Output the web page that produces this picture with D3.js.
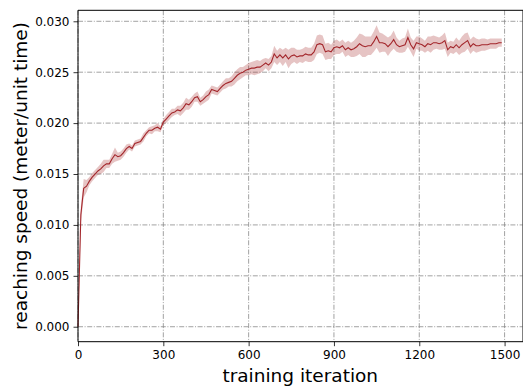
<!DOCTYPE html>
<html>
<head>
<meta charset="utf-8">
<script src="https://cdn.jsdelivr.net/npm/d3@7"></script>
<style>
  body { margin: 0; background: #fff; }
  text { font-family: "DejaVu Sans", sans-serif; }
</style>
</head>
<body>
<div id="my_dataviz"></div>
<script>
// training iterations (one sample every 10 iterations)
const iterations = d3.range(0, 1500, 10);

// mean reaching speed per sample
const speedMean = [
  0, 0.0110, 0.0136, 0.0138, 0.0143, 0.0147, 0.0150, 0.0153, 0.0155, 0.0158,
  0.0160, 0.0160, 0.0165, 0.0169, 0.0167, 0.0168, 0.0171, 0.0175, 0.0177, 0.0175,
  0.0180, 0.0181, 0.0182, 0.0186, 0.0190, 0.0193, 0.0193, 0.0195, 0.0196, 0.0194,
  0.0201, 0.0204, 0.0207, 0.0210, 0.0211, 0.0213, 0.0212, 0.0215, 0.0219, 0.0218,
  0.0221, 0.0225, 0.0226, 0.0221, 0.0223, 0.0226, 0.0228, 0.0233, 0.0232, 0.0231,
  0.0234, 0.0237, 0.0239, 0.0240, 0.0241, 0.0244, 0.0247, 0.0249, 0.0250, 0.0252,
  0.0253, 0.0254, 0.0254, 0.0255, 0.0255, 0.0257, 0.0259, 0.0257, 0.0260, 0.0268,
  0.0264, 0.0267, 0.0264, 0.0267, 0.0263, 0.0266, 0.0267, 0.0265, 0.0266, 0.0266,
  0.0268, 0.0267, 0.0267, 0.0270, 0.0277, 0.0278, 0.0277, 0.0270, 0.0271, 0.0270,
  0.0274, 0.0275, 0.0274, 0.0276, 0.0272, 0.0274, 0.0272, 0.0273, 0.0275, 0.0278,
  0.0276, 0.0275, 0.0276, 0.0276, 0.0280, 0.0285, 0.0279, 0.0279, 0.0278, 0.0275,
  0.0278, 0.0282, 0.0277, 0.0275, 0.0276, 0.0277, 0.0284, 0.0277, 0.0273, 0.0279,
  0.0278, 0.0277, 0.0275, 0.0278, 0.0277, 0.0279, 0.0279, 0.0278, 0.0279, 0.0281,
  0.0272, 0.0275, 0.0274, 0.0277, 0.0274, 0.0277, 0.0279, 0.0281, 0.0275, 0.0278,
  0.0276, 0.0276, 0.0277, 0.0277, 0.0277, 0.0278, 0.0278, 0.0278, 0.0279, 0.0279
];

// spread (half width of the shaded band) per sample
const speedSpread = [
  0, 0.0008, 0.0009, 0.0006, 0.0004, 0.0004, 0.0004, 0.0004, 0.0005, 0.0006,
  0.0004, 0.0004, 0.0005, 0.0007, 0.0004, 0.0004, 0.0004, 0.0004, 0.0003, 0.0003,
  0.0003, 0.0003, 0.0003, 0.0004, 0.0003, 0.0003, 0.0004, 0.0003, 0.0004, 0.0003,
  0.0003, 0.0004, 0.0004, 0.0004, 0.0003, 0.0004, 0.0005, 0.0005, 0.0006, 0.0005,
  0.0005, 0.0004, 0.0005, 0.0004, 0.0004, 0.0005, 0.0005, 0.0004, 0.0004, 0.0004,
  0.0004, 0.0004, 0.0005, 0.0004, 0.0005, 0.0006, 0.0006, 0.0006, 0.0005, 0.0005,
  0.0006, 0.0006, 0.0007, 0.0007, 0.0006, 0.0006, 0.0005, 0.0006, 0.0006, 0.0008,
  0.0007, 0.0007, 0.0008, 0.0007, 0.0009, 0.0008, 0.0007, 0.0007, 0.0006, 0.0007,
  0.0007, 0.0007, 0.0007, 0.0008, 0.0009, 0.0009, 0.0009, 0.0008, 0.0008, 0.0007,
  0.0007, 0.0007, 0.0006, 0.0006, 0.0007, 0.0007, 0.0007, 0.0008, 0.0009, 0.0010,
  0.0011, 0.0010, 0.0009, 0.0009, 0.0010, 0.0011, 0.0010, 0.0009, 0.0008, 0.0009,
  0.0008, 0.0009, 0.0007, 0.0006, 0.0007, 0.0007, 0.0009, 0.0007, 0.0008, 0.0006,
  0.0007, 0.0006, 0.0006, 0.0007, 0.0008, 0.0007, 0.0006, 0.0006, 0.0007, 0.0008,
  0.0007, 0.0006, 0.0006, 0.0007, 0.0007, 0.0008, 0.0009, 0.0008, 0.0007, 0.0007,
  0.0007, 0.0006, 0.0006, 0.0006, 0.0005, 0.0005, 0.0005, 0.0005, 0.0004, 0.0004
];

// tick values
const xTicks = [0, 300, 600, 900, 1200, 1500];
const yTicks = [0, 0.005, 0.010, 0.015, 0.020, 0.025, 0.030];

const width = 523, height = 386;
const plotLeft = 78, plotRight = 522.5, plotTop = 10.3, plotBottom = 341.7;

const data = iterations.map((it, i) => ({ it: it, m: speedMean[i], s: speedSpread[i] }));

const svg = d3.select("#my_dataviz")
  .append("svg")
  .attr("width", width)
  .attr("height", height);

const x = d3.scaleLinear().domain([0, 1563]).range([plotLeft, plotRight]);
const y = d3.scaleLinear().domain([-0.00147, 0.03108]).range([plotBottom, plotTop]);

// grid lines, dash-dot
const grid = svg.append("g")
  .attr("stroke", "#8a8a8a")
  .attr("stroke-width", 0.8)
  .attr("stroke-dasharray", "5,1.6,1,1.6");
grid.selectAll("line.gx").data(xTicks).join("line")
  .attr("class", "gx")
  .attr("x1", d => x(d)).attr("x2", d => x(d))
  .attr("y1", plotTop).attr("y2", plotBottom);
grid.selectAll("line.gy").data(yTicks).join("line")
  .attr("class", "gy")
  .attr("y1", d => y(d)).attr("y2", d => y(d))
  .attr("x1", plotLeft).attr("x2", plotRight);

// shaded band
svg.append("path")
  .datum(data)
  .attr("fill", "#a52a2a")
  .attr("fill-opacity", 0.28)
  .attr("d", d3.area()
    .x(d => x(d.it))
    .y0(d => y(d.m - d.s))
    .y1(d => y(d.m + d.s)));

// mean line
svg.append("path")
  .datum(data)
  .attr("fill", "none")
  .attr("stroke", "#a3262b")
  .attr("stroke-width", 1.1)
  .attr("d", d3.line()
    .x(d => x(d.it))
    .y(d => y(d.m)));

// axes
const xAxis = svg.append("g")
  .attr("transform", `translate(0,${plotBottom})`)
  .call(d3.axisBottom(x).tickValues(xTicks).tickSize(4.5).tickPadding(4).tickFormat(d3.format("d")));
const yAxis = svg.append("g")
  .attr("transform", `translate(${plotLeft},0)`)
  .call(d3.axisLeft(y).tickValues(yTicks).tickSize(4.5).tickPadding(4).tickFormat(d3.format(".3f")));

[xAxis, yAxis].forEach(g => {
  g.select(".domain").remove();
  g.selectAll("text").attr("font-size", 12).attr("fill", "#000")
    .style("font-family", "DejaVu Sans");
  g.selectAll("line").attr("stroke", "#000").attr("stroke-width", 0.8);
});

// frame (right spine sits on the cropped edge of the figure)
const frame = svg.append("g").attr("stroke", "#000").attr("stroke-width", 1);
frame.append("line").attr("x1", plotLeft).attr("x2", width).attr("y1", plotTop).attr("y2", plotTop);
frame.append("line").attr("x1", plotLeft).attr("x2", width).attr("y1", plotBottom).attr("y2", plotBottom);
frame.append("line").attr("x1", plotLeft).attr("x2", plotLeft).attr("y1", plotTop).attr("y2", plotBottom);
frame.append("line").attr("x1", width).attr("x2", width).attr("y1", plotTop).attr("y2", plotBottom);

// axis labels
svg.append("text")
  .attr("x", (plotLeft + plotRight) / 2)
  .attr("y", 381.5)
  .attr("text-anchor", "middle")
  .attr("font-size", 18.5)
  .text("training iteration");

svg.append("text")
  .attr("transform", `translate(26.5,${(plotTop + plotBottom) / 2}) rotate(-90)`)
  .attr("text-anchor", "middle")
  .attr("font-size", 18.5)
  .text("reaching speed (meter/unit time)");
</script>
</body>
</html>
